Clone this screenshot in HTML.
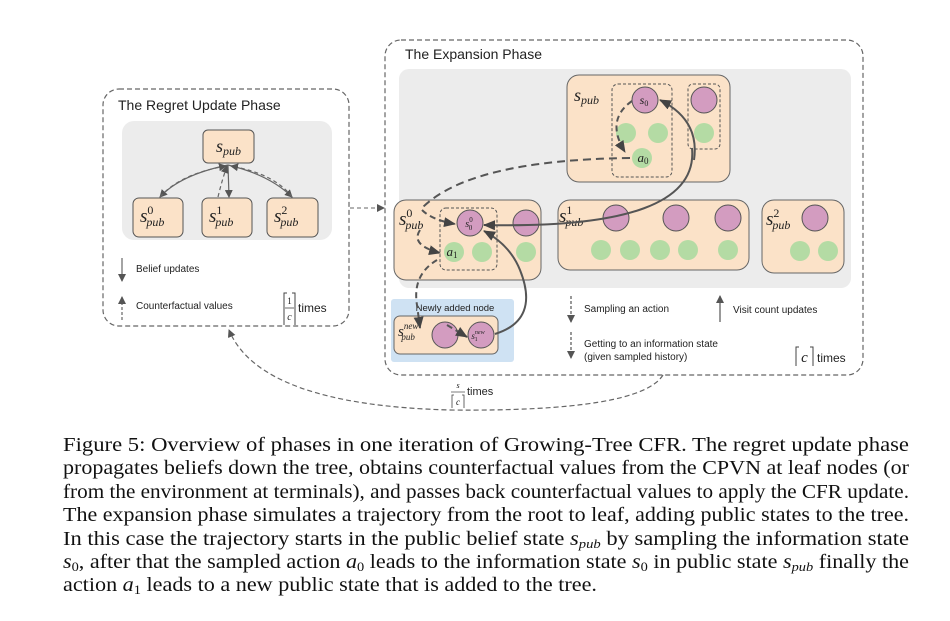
<!DOCTYPE html>
<html><head><meta charset="utf-8"><style>
html,body{margin:0;padding:0;background:#fff;}
svg{display:block}
.s{font-family:"Liberation Sans",sans-serif;fill:#222}
.m{font-family:"Liberation Serif",serif;font-style:italic;fill:#222}
.c{font-family:"Liberation Serif",serif;font-size:20px;fill:#111}
.n{font-style:normal}
</style></head><body>
<svg width="950" height="621" viewBox="0 0 950 621" xmlns="http://www.w3.org/2000/svg">
<defs>
<marker id="ah" markerWidth="8" markerHeight="8" refX="7" refY="4" orient="auto" markerUnits="userSpaceOnUse"><path d="M0,0 L8,4 L0,8 z" fill="#555"/></marker>
<marker id="ab" markerWidth="12" markerHeight="10" refX="11" refY="5" orient="auto" markerUnits="userSpaceOnUse"><path d="M0,0 L12,5 L0,10 z" fill="#444"/></marker>
</defs>

<!-- Regret update phase -->
<rect x="103" y="89" width="246" height="237" rx="16" fill="none" stroke="#666" stroke-dasharray="5,3" stroke-width="1.2"/>
<text x="118" y="110" class="s" font-size="14">The Regret Update Phase</text>
<rect x="122" y="121" width="210" height="119" rx="12" fill="#ececec"/>
<rect x="203" y="130" width="51" height="33" rx="5" fill="#fbe2c8" stroke="#555"/>
<text x="228.5" y="152" class="m" font-size="18" text-anchor="middle">s<tspan font-size="12" dy="3">pub</tspan></text>
<rect x="133" y="198" width="50" height="39" rx="6" fill="#fbe2c8" stroke="#555"/>
<rect x="202" y="198" width="50" height="39" rx="6" fill="#fbe2c8" stroke="#555"/>
<rect x="267" y="198" width="51" height="39" rx="6" fill="#fbe2c8" stroke="#555"/>
<text x="140" y="222" class="m" font-size="19">s<tspan class="n" font-size="12" dy="-8">0</tspan><tspan font-size="12" dx="-7" dy="12">pub</tspan></text>
<text x="209" y="222" class="m" font-size="19">s<tspan class="n" font-size="12" dy="-8">1</tspan><tspan font-size="12" dx="-7" dy="12">pub</tspan></text>
<text x="274" y="222" class="m" font-size="19">s<tspan class="n" font-size="12" dy="-8">2</tspan><tspan font-size="12" dx="-7" dy="12">pub</tspan></text>
<g fill="none" stroke="#666" stroke-width="1.2">
<path d="M228,165 Q180,175 160,197" marker-end="url(#ah)"/>
<path d="M228,165 L229,197" marker-end="url(#ah)"/>
<path d="M228,165 Q270,175 292,197" marker-end="url(#ah)"/>
<path d="M160,197 Q180,174 226,166" stroke-dasharray="4,3" marker-end="url(#ah)"/>
<path d="M218,197 Q222,180 227,166" stroke-dasharray="4,3" marker-end="url(#ah)"/>
<path d="M292,197 Q275,174 231,166" stroke-dasharray="4,3" marker-end="url(#ah)"/>
<path d="M122,258 L122,281" marker-end="url(#ah)"/>
<path d="M122,320 L122,297" stroke-dasharray="3,2" marker-end="url(#ah)"/>
</g>
<text x="136" y="272" class="s" font-size="10">Belief updates</text>
<text x="136" y="309" class="s" font-size="10">Counterfactual values</text>
<path d="M287,293 L284,293 L284,325 M292,293 L295,293 L295,325" fill="none" stroke="#444"/>
<text x="289.5" y="304" class="m n" font-size="9" text-anchor="middle">1</text>
<line x1="285" y1="308" x2="294" y2="308" stroke="#444" stroke-width="0.8"/>
<text x="289.5" y="320" class="m" font-size="10" text-anchor="middle">c</text>
<text x="298" y="312" class="s" font-size="12">times</text>

<path d="M350,208 L384,208" fill="none" stroke="#666" stroke-dasharray="4,3" marker-end="url(#ah)"/>

<!-- Expansion phase -->
<rect x="385" y="40" width="478" height="335" rx="16" fill="none" stroke="#666" stroke-dasharray="5,3" stroke-width="1.2"/>
<text x="405" y="59" class="s" font-size="14">The Expansion Phase</text>
<rect x="399" y="69" width="452" height="219" rx="10" fill="#ececec"/>

<rect x="567" y="75" width="163" height="107" rx="12" fill="#fbe2c8" stroke="#666"/>
<text x="574" y="101" class="m" font-size="18">s<tspan font-size="12" dy="3">pub</tspan></text>
<rect x="612" y="84" width="60" height="93" rx="6" fill="none" stroke="#555" stroke-dasharray="3,2"/>
<rect x="688" y="84" width="32" height="65" rx="5" fill="none" stroke="#555" stroke-dasharray="3,2"/>
<circle cx="645" cy="100" r="13" fill="#d39cc0" stroke="#555"/>
<text x="644" y="104" class="m" font-size="12" text-anchor="middle">s<tspan class="n" font-size="8" dy="2">0</tspan></text>
<circle cx="704" cy="100" r="13" fill="#d39cc0" stroke="#555"/>
<circle cx="626" cy="133" r="10" fill="#b4dba4"/>
<circle cx="658" cy="133" r="10" fill="#b4dba4"/>
<circle cx="704" cy="133" r="10" fill="#b4dba4"/>
<circle cx="642" cy="158" r="10" fill="#b4dba4"/>
<text x="643" y="162" class="m" font-size="13" text-anchor="middle">a<tspan class="n" font-size="9" dy="2">0</tspan></text>

<rect x="394" y="200" width="147" height="80" rx="12" fill="#fbe2c8" stroke="#666"/>
<text x="399" y="225" class="m" font-size="19">s<tspan class="n" font-size="12" dy="-8">0</tspan><tspan font-size="12" dx="-7" dy="12">pub</tspan></text>
<rect x="440" y="208" width="57" height="62" rx="6" fill="none" stroke="#555" stroke-dasharray="3,2"/>
<circle cx="470" cy="223" r="13" fill="#d39cc0" stroke="#555"/>
<text x="469" y="227" class="m" font-size="10" text-anchor="middle">s<tspan class="n" font-size="7" dy="-5">0</tspan><tspan class="n" font-size="7" dx="-4" dy="8">0</tspan></text>
<circle cx="526" cy="223" r="13" fill="#d39cc0" stroke="#555"/>
<circle cx="454" cy="252" r="10" fill="#b4dba4"/>
<text x="452" y="256" class="m" font-size="13" text-anchor="middle">a<tspan class="n" font-size="9" dy="2">1</tspan></text>
<circle cx="482" cy="252" r="10" fill="#b4dba4"/>
<circle cx="526" cy="252" r="10" fill="#b4dba4"/>

<rect x="558" y="200" width="191" height="70" rx="12" fill="#fbe2c8" stroke="#666"/>
<text x="559" y="222" class="m" font-size="19">s<tspan class="n" font-size="12" dy="-8">1</tspan><tspan font-size="12" dx="-7" dy="12">pub</tspan></text>
<circle cx="616" cy="218" r="13" fill="#d39cc0" stroke="#555"/>
<circle cx="676" cy="218" r="13" fill="#d39cc0" stroke="#555"/>
<circle cx="728" cy="218" r="13" fill="#d39cc0" stroke="#555"/>
<circle cx="601" cy="250" r="10" fill="#b4dba4"/>
<circle cx="630" cy="250" r="10" fill="#b4dba4"/>
<circle cx="660" cy="250" r="10" fill="#b4dba4"/>
<circle cx="688" cy="250" r="10" fill="#b4dba4"/>
<circle cx="728" cy="250" r="10" fill="#b4dba4"/>

<rect x="762" y="200" width="82" height="73" rx="12" fill="#fbe2c8" stroke="#666"/>
<text x="766" y="225" class="m" font-size="19">s<tspan class="n" font-size="12" dy="-8">2</tspan><tspan font-size="12" dx="-7" dy="12">pub</tspan></text>
<circle cx="815" cy="218" r="13" fill="#d39cc0" stroke="#555"/>
<circle cx="800" cy="251" r="10" fill="#b4dba4"/>
<circle cx="828" cy="251" r="10" fill="#b4dba4"/>

<rect x="391" y="299" width="123" height="63" rx="3" fill="#cfe2f3"/>
<text x="455" y="311" class="s" font-size="9.5" text-anchor="middle">Newly added node</text>
<rect x="394" y="316" width="104" height="38" rx="6" fill="#fbe2c8" stroke="#666"/>
<text x="398" y="336" class="m" font-size="15">s<tspan font-size="9" dy="-7">new</tspan><tspan font-size="9" dx="-17" dy="11">pub</tspan></text>
<circle cx="445" cy="335" r="13" fill="#d39cc0" stroke="#555"/>
<circle cx="481" cy="335" r="13" fill="#d39cc0" stroke="#555"/>
<text x="478" y="339" class="m" font-size="9" text-anchor="middle">s<tspan font-size="6" dy="-5">new</tspan><tspan class="n" font-size="6" dx="-10" dy="7">1</tspan></text>

<!-- expansion arrows -->
<g fill="none" stroke="#555" stroke-width="2">
<path d="M632,101 Q605,120 625,152" stroke-dasharray="6,4" marker-end="url(#ab)"/>
<path d="M630,158 Q470,160 422,208" stroke-dasharray="8,5"/>
<path d="M422,210 Q432,220 455,224" stroke-dasharray="6,4" marker-end="url(#ab)"/>
<path d="M420,230 Q410,245 440,253" stroke-dasharray="6,4" marker-end="url(#ab)"/>
<path d="M437,260 Q412,275 417,305 L420,328" stroke-dasharray="6,4" marker-end="url(#ab)"/>
<path d="M447,325 L467,337" stroke-dasharray="6,4" marker-end="url(#ab)"/>
<path d="M495,334 Q540,320 520,270 Q510,245 484,231" marker-end="url(#ab)"/>
<path d="M692,148 Q700,230 484,225" marker-end="url(#ab)"/>
<path d="M694,160 Q700,120 660,100" marker-end="url(#ab)"/>
</g>

<!-- legend -->
<g fill="none" stroke="#555" stroke-width="1.2">
<path d="M571,296 L571,322" stroke-dasharray="3,2" marker-end="url(#ah)"/>
<path d="M720,322 L720,296" marker-end="url(#ah)"/>
<path d="M571,332 L571,358" stroke-dasharray="3,2" marker-end="url(#ah)"/>
</g>
<text x="584" y="312" class="s" font-size="10">Sampling an action</text>
<text x="733" y="313" class="s" font-size="10">Visit count updates</text>
<text x="584" y="347" class="s" font-size="10">Getting to an information state</text>
<text x="584" y="360" class="s" font-size="10">(given sampled history)</text>
<path d="M799,347 L796,347 L796,366 M810,347 L813,347 L813,366" fill="none" stroke="#444"/>
<text x="804.5" y="362" class="m" font-size="15" text-anchor="middle">c</text>
<text x="817" y="362" class="s" font-size="12">times</text>

<!-- bottom return connector -->
<path d="M663,375 Q640,412 450,410 Q260,405 229,330" fill="none" stroke="#666" stroke-width="1.2" stroke-dasharray="5,3" marker-end="url(#ah)"/>
<text x="458" y="388" class="m" font-size="8" text-anchor="middle">s</text>
<line x1="451" y1="392" x2="465" y2="392" stroke="#444" stroke-width="0.7"/>
<path d="M454,395 L452,395 L452,408 M462,395 L464,395 L464,408" fill="none" stroke="#444" stroke-width="0.8"/>
<text x="458" y="405" class="m" font-size="9" text-anchor="middle">c</text>
<text x="467" y="395" class="s" font-size="11">times</text>

<!-- caption -->
<text class="c" x="63" y="451" textLength="846" lengthAdjust="spacingAndGlyphs">Figure 5:  Overview of phases in one iteration of Growing-Tree CFR. The regret update phase</text>
<text class="c" x="63" y="474" textLength="846" lengthAdjust="spacingAndGlyphs">propagates beliefs down the tree, obtains counterfactual values from the CPVN at leaf nodes (or</text>
<text class="c" x="63" y="498" textLength="846" lengthAdjust="spacingAndGlyphs">from the environment at terminals), and passes back counterfactual values to apply the CFR update.</text>
<text class="c" x="63" y="521" textLength="846" lengthAdjust="spacingAndGlyphs">The expansion phase simulates a trajectory from the root to leaf, adding public states to the tree.</text>
<text class="c" x="63" y="545" textLength="846" lengthAdjust="spacingAndGlyphs">In this case the trajectory starts in the public belief state <tspan font-style="italic">s</tspan><tspan font-style="italic" font-size="13" dy="3">pub</tspan><tspan dy="-3"> by sampling the information state</tspan></text>
<text class="c" x="63" y="568" textLength="846" lengthAdjust="spacingAndGlyphs"><tspan font-style="italic">s</tspan><tspan font-size="13" dy="3">0</tspan><tspan dy="-3">, after that the sampled action </tspan><tspan font-style="italic">a</tspan><tspan font-size="13" dy="3">0</tspan><tspan dy="-3"> leads to the information state </tspan><tspan font-style="italic">s</tspan><tspan font-size="13" dy="3">0</tspan><tspan dy="-3"> in public state </tspan><tspan font-style="italic">s</tspan><tspan font-style="italic" font-size="13" dy="3">pub</tspan><tspan dy="-3"> finally the</tspan></text>
<text class="c" x="63" y="591" textLength="534" lengthAdjust="spacingAndGlyphs">action <tspan font-style="italic">a</tspan><tspan font-size="13" dy="3">1</tspan><tspan dy="-3"> leads to a new public state that is added to the tree.</tspan></text>
</svg>
</body></html>
